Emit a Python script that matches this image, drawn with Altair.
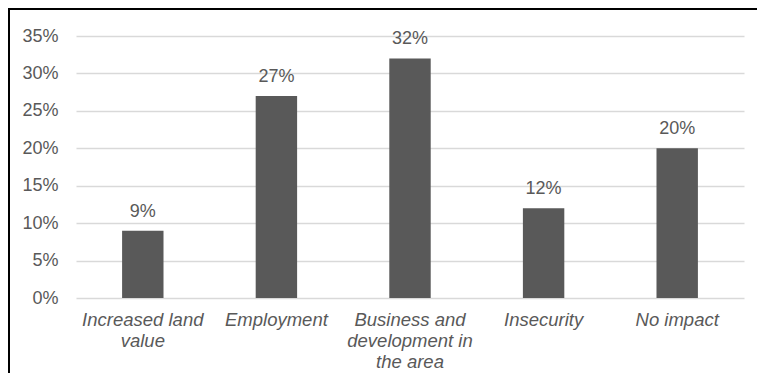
import altair as alt
import pandas as pd

categories = ["Increased land value", "Employment", "Business and development in the area", "Insecurity", "No impact"]
wrapped = ["Increased land|value", "Employment", "Business and|development in|the area", "Insecurity", "No impact"]
values = [0.09, 0.27, 0.32, 0.12, 0.20]
y_ticks = [0, 0.05, 0.10, 0.15, 0.20, 0.25, 0.30, 0.35]

df = pd.DataFrame({"category": categories, "label": wrapped, "value": values})

FONT = "Liberation Sans"
GRAY = "#595959"

x = alt.X("label:N", sort=wrapped, title=None,
          scale=alt.Scale(paddingInner=0.69, paddingOuter=0.345),
          axis=alt.Axis(labelExpr="split(datum.value, '|')", labelAngle=0,
                        labelFont=FONT, labelFontSize=18.5, labelFontStyle="italic",
                        labelColor=GRAY, labelLineHeight=21, labelPadding=12,
                        ticks=False, domain=False, grid=False, labelBaseline="top"))
y = alt.Y("value:Q", title=None,
          scale=alt.Scale(domain=[0, 0.35], nice=False, zero=True),
          axis=alt.Axis(values=y_ticks, format=".0%", labelFont=FONT, labelFontSize=18,
                        labelColor=GRAY, labelPadding=18, ticks=False, domain=False,
                        labelOverlap=False, gridColor="#d9d9d9", gridWidth=1.5))

bars = alt.Chart(df).mark_bar(color=GRAY).encode(x=x, y=y)
text = alt.Chart(df).mark_text(font=FONT, fontSize=18, color=GRAY, dy=-14, baseline="alphabetic").encode(
    x=x, y=y, text=alt.Text("value:Q", format=".0%"))

border_top = alt.Chart(df).mark_rule(color="#000000", strokeWidth=2).encode(
    x=alt.value(-68), x2=alt.value(700), y=alt.value(-27))
border_left = alt.Chart(df).mark_rule(color="#000000", strokeWidth=2).encode(
    x=alt.value(-67), y=alt.value(-28), y2=alt.value(400))

chart = alt.layer(bars, text, border_top, border_left).properties(
    width=668, height=262,
    autosize=alt.AutoSizeParams(type="none"),
    padding={"left": 68, "top": 28, "right": 13, "bottom": 75},
).configure_view(stroke=None)

chart.save("out.html", embed_options={"renderer": "svg", "actions": False})
